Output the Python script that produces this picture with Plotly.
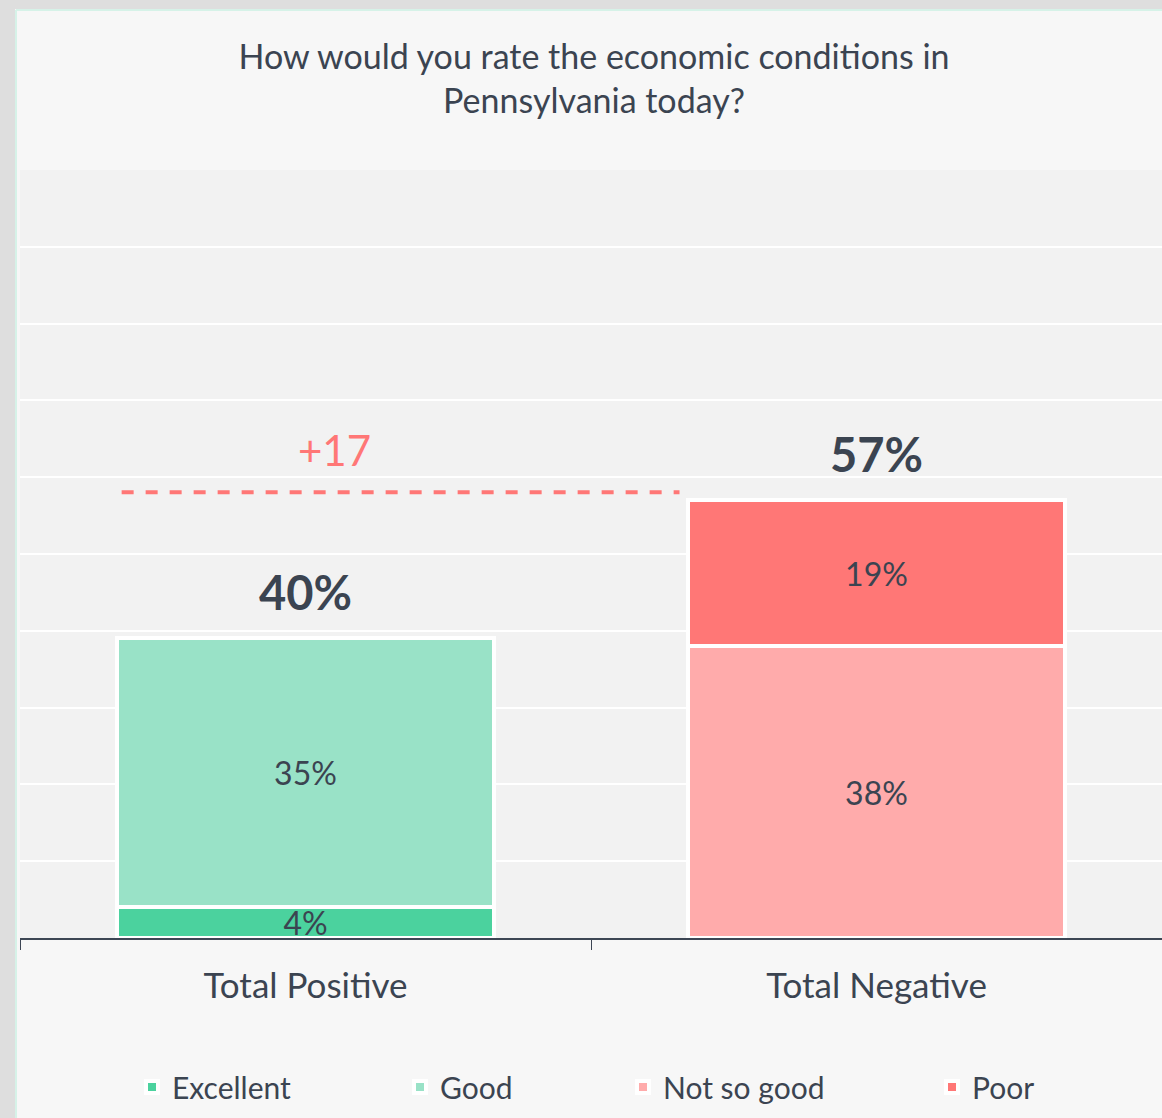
import plotly.graph_objects as go

categories = ["Total Positive", "Total Negative"]
series_names = ["Excellent", "Good", "Not so good", "Poor"]
excellent = [4, None]
good = [35, None]
not_so_good = [None, 38]
poor = [None, 19]
totals = [40, 57]
colors = {"Excellent": "#4bd29e", "Good": "#99e2c7", "Not so good": "#ffabab", "Poor": "#ff7776"}
legend_widths = [223, 178, 264, 100]

TXT = "#3b4451"
FONT = "Lato"
W, H = 1162, 1118
ML, MR, MT, MB = 20, 0, 170, 180
PW = W - ML - MR
PH = H - MT - MB

series = [excellent, good, not_so_good, poor]
stack_tops = [sum(s[i] for s in series if s[i] is not None) for i in range(len(categories))]

fig = go.Figure()
for name, vals, lw in zip(series_names, series, legend_widths):
    fig.add_trace(go.Bar(
        x=categories, y=vals, name=name,
        marker=dict(color=colors[name], line=dict(color="white", width=4)),
        width=0.66,
        text=[f"{v}%" if v is not None else "" for v in vals],
        textposition="inside", insidetextanchor="middle",
        constraintext="none",
        textfont=dict(family=FONT, size=32, color=TXT),
        hoverinfo="skip",
        legendwidth=lw,
    ))

# Total labels
for c, t, top in zip(categories, totals, stack_tops):
    fig.add_annotation(x=c, y=top, text=f"<b>{t}%</b>", showarrow=False,
                       yanchor="bottom", yshift=16,
                       font=dict(family=FONT, size=47, color=TXT))

# Gap annotation and dashed line
diff = totals[1] - totals[0]
fig.add_shape(type="line", xref="x", yref="y", x0=-0.322, x1=0.655,
              ysizemode="pixel", yanchor=stack_tops[1], y0=8, y1=8,
              line=dict(color="#ff7776", width=4, dash="dash"))
fig.add_annotation(x=0.05, y=stack_tops[1], text=f"+{diff}", showarrow=False,
                   yanchor="bottom", yshift=23, xref="x", yref="y",
                   font=dict(family=FONT, size=42, color="#ff7776"))

# Frame shadow
px = lambda p: (p - ML) / PW
py = lambda p: (MT + PH - p) / PH
fig.add_shape(type="rect", xref="paper", yref="paper", x0=px(0), x1=px(15), y0=py(H), y1=py(0),
              fillcolor="#dedede", line_width=0, layer="below")
fig.add_shape(type="rect", xref="paper", yref="paper", x0=px(0), x1=px(W), y0=py(9), y1=py(0),
              fillcolor="#dedede", line_width=0, layer="below")
fig.add_shape(type="line", xref="paper", yref="paper", x0=px(16), x1=px(16), y0=py(H), y1=py(10),
              line=dict(color="#d6f2e8", width=2))
fig.add_shape(type="line", xref="paper", yref="paper", x0=px(16), x1=px(W), y0=py(10), y1=py(10),
              line=dict(color="#d6f2e8", width=2))

fig.update_layout(
    width=W, height=H,
    margin=dict(l=ML, r=MR, t=MT, b=MB),
    barmode="stack",
    paper_bgcolor="#f7f7f7",
    plot_bgcolor="#f2f2f2",
    title=dict(text="How would you rate the economic conditions in<br>Pennsylvania today?",
               x=px(594), xref="paper", xanchor="center",
               y=1 - 69 / H, yref="container", yanchor="middle",
               font=dict(family=FONT, size=34, color=TXT)),
    font=dict(family=FONT, color=TXT),
    showlegend=True,
    legend=dict(orientation="h", x=px(132), xanchor="left", y=py(1087), yanchor="middle",
                font=dict(family=FONT, size=30, color=TXT), traceorder="normal",
                bgcolor="rgba(0,0,0,0)"),
    bargap=0.34,
)
fig.update_xaxes(showline=True, linecolor="#3d4654", linewidth=2,
                 ticks="outside", tickson="boundaries", ticklen=10, tickcolor="#3d4654",
                 tickfont=dict(family=FONT, size=35, color=TXT),
                 ticklabelstandoff=16, showgrid=False, range=[-0.5, 1.5])
fig.update_yaxes(range=[0, 100], dtick=10, showticklabels=False, gridcolor="white",
                 gridwidth=2, zeroline=False, showline=False)

fig.write_html("out.html", config={"displayModeBar": False},
               post_script="document.body.style.margin='0';")
